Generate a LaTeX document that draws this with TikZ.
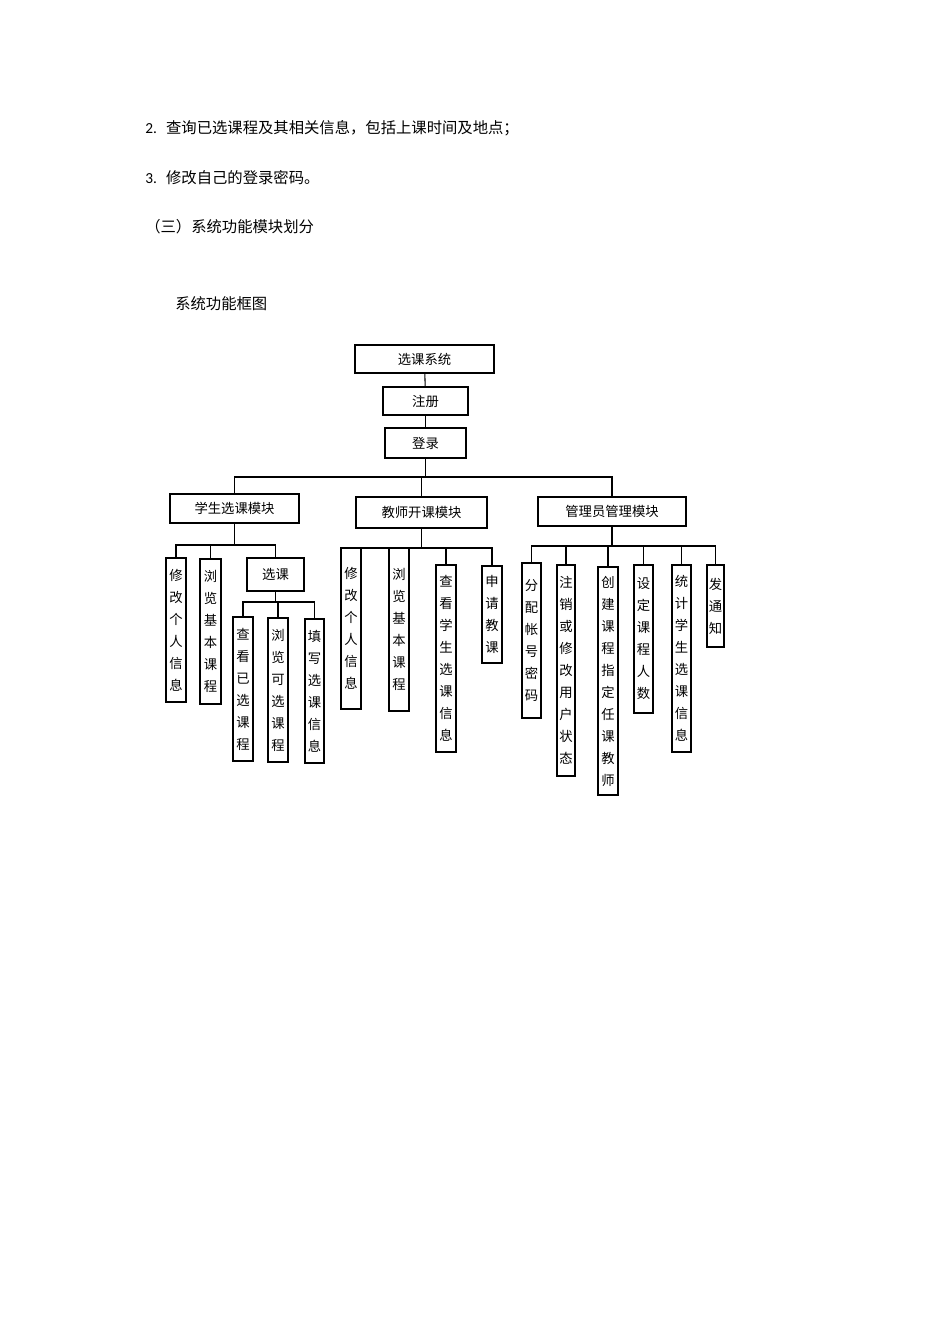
\documentclass[tikz,border=0pt]{standalone}
\usepackage{fontspec}
\setmainfont{Noto Sans CJK SC}
\newfontfamily\latinf{Carlito}
\tikzset{bx/.style={draw,thick,inner sep=0pt,align=center,font=\fontsize{10}{16.5}\selectfont},
 ln/.style={thick}, txt/.style={anchor=west,inner sep=0pt,font=\fontsize{11.5}{14}\selectfont}}
\newcommand\bx[6]{\node[bx,minimum width={(#4-#2)*0.75pt},minimum height={(#5-#3)*0.75pt}] (#1) at ({(#2+#4)/2},{(#3+#5)/2}) {#6};}
\newcommand\conn[3]{\draw[ln] (#1.south) -- (#1.south |- 0,#2) -| (#3.north);}
\begin{document}
\begin{tikzpicture}[x=0.75pt,y=-0.75pt]
\useasboundingbox[fill=white] (0,0) rectangle (950,1344);
\node[txt] (t1) at (145,128) {{\latinf 2.}\hspace{0.6em}查询已选课程及其相关信息，包括上课时间及地点；};
\node[txt] (t2) at (145,178) {{\latinf 3.}\hspace{0.6em}修改自己的登录密码。};
\node[txt] (t3) at (145,227) {（三）系统功能模块划分};
\node[txt] (t4) at (175,304) {系统功能框图};
\bx{sys}{355}{345}{494}{373}{选课系统}
\bx{reg}{383}{387}{468}{415}{注册}
\bx{log}{385}{428}{466}{458}{登录}
\bx{stu}{170}{494}{299}{523}{学生选课模块}
\bx{tea}{356}{497}{487}{528}{教师开课模块}
\bx{adm}{538}{497}{686}{526}{管理员管理模块}
\bx{s1}{166}{558}{186}{702}{修\\改\\个\\人\\信\\息}
\bx{s2}{200}{559}{221}{704}{浏\\览\\基\\本\\课\\程}
\bx{s3}{247}{558}{304}{591}{选课}
\bx{s31}{233}{617}{253}{761}{查\\看\\已\\选\\课\\程}
\bx{s32}{268}{618}{288}{762}{浏\\览\\可\\选\\课\\程}
\bx{s33}{305}{619}{324}{763}{填\\写\\选\\课\\信\\息}
\bx{t1b}{341}{548}{361}{709}{修\\改\\个\\人\\信\\息}
\bx{t2b}{389}{548}{409}{711}{浏\\览\\基\\本\\课\\程}
\bx{t3b}{436}{565}{456}{752}{查\\看\\学\\生\\选\\课\\信\\息}
\bx{t4b}{482}{566}{502}{663}{申\\请\\教\\课}
\bx{a1}{522}{563}{541}{718}{分\\配\\帐\\号\\密\\码}
\bx{a2}{557}{565}{575}{776}{注\\销\\或\\修\\改\\用\\户\\状\\态}
\bx{a3}{598}{567}{618}{795}{创\\建\\课\\程\\指\\定\\任\\课\\教\\师}
\bx{a4}{634}{565}{653}{713}{设\\定\\课\\程\\人\\数}
\bx{a5}{672}{565}{691}{752}{统\\计\\学\\生\\选\\课\\信\\息}
\bx{a6}{707}{565}{724}{647}{发\\通\\知}
\draw[ln] (sys) -- (reg);
\draw[ln] (reg) -- (log);
\conn{log}{477}{stu} \conn{log}{477}{tea} \conn{log}{477}{adm}
\conn{stu}{545}{s1} \conn{stu}{545}{s2} \conn{stu}{545}{s3}
\conn{s3}{602}{s31} \conn{s3}{602}{s32} \conn{s3}{602}{s33}
\conn{tea}{548}{t1b} \conn{tea}{548}{t2b} \conn{tea}{548}{t3b} \conn{tea}{548}{t4b}
\conn{adm}{546}{a1} \conn{adm}{546}{a2} \conn{adm}{546}{a3} \conn{adm}{546}{a4} \conn{adm}{546}{a5} \conn{adm}{546}{a6}
\end{tikzpicture}
\end{document}
